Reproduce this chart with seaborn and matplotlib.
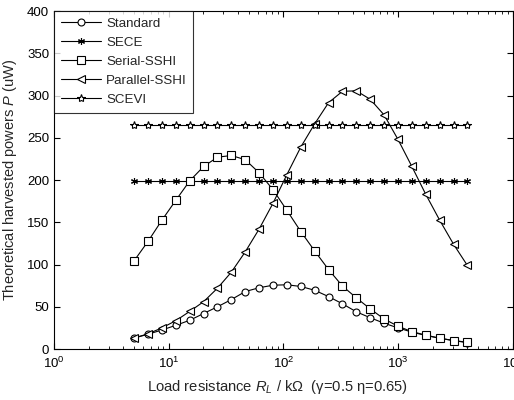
import matplotlib
matplotlib.use("Agg")
import matplotlib.pyplot as plt
import seaborn as sns
import pandas as pd

# Load resistance (kOhm)
r_load = [5.0, 6.61, 8.73, 11.53, 15.24, 20.14, 26.61, 35.16, 46.45, 61.38,
          81.10, 107.2, 141.6, 187.1, 247.2, 326.6, 431.5, 570.2, 753.4, 995.4,
          1315, 1738, 2296, 3034, 4000]

standard = [13, 17.5, 22.5, 28, 34, 42, 50, 58.5, 68, 72.5,
            75.5, 76, 74, 69.5, 62, 53.5, 44, 37, 30.5, 25,
            20, 16, 12.8, 10, 7.5]
sece = [199] * 25
serial_sshi = [104.5, 127.5, 152.5, 176, 199, 216, 227, 229, 224, 208.5,
               188.5, 164, 139, 116, 94, 74.5, 60.5, 47.5, 35.5, 27,
               20.5, 16.5, 12.7, 10, 8]
parallel_sshi = [13, 18, 25, 33.5, 44.5, 56, 72, 91, 115, 142,
                 172.5, 206.5, 239, 266.5, 291.5, 305, 305.5, 295.5, 277, 248,
                 216, 183, 152.5, 124, 99]
scevi = [265] * 25

series_names = ["Standard", "SECE", "Serial-SSHI", "Parallel-SSHI", "SCEVI"]
series_values = [standard, sece, serial_sshi, parallel_sshi, scevi]
markers = ["o", (6, 2, 0), "s", "<", "*"]
msizes = [5, 5, 5.8, 5.5, 6]

sns.set_style("ticks")
plt.rcParams["font.family"] = ["Liberation Sans", "DejaVu Sans"]
plt.rcParams["mathtext.fontset"] = "custom"
plt.rcParams["mathtext.it"] = "Liberation Sans:italic"
plt.rcParams["mathtext.rm"] = "Liberation Sans"

fig = plt.figure(figsize=(5.14, 4.0), dpi=100)
ax = fig.add_axes([0.105, 0.1275, 0.893, 0.845])

for name, vals, mk, ms in zip(series_names, series_values, markers, msizes):
    df = pd.DataFrame({"R": r_load, "P": vals})
    sns.lineplot(data=df, x="R", y="P", ax=ax, label=name, color="black",
                 linewidth=0.8, marker=mk, markersize=ms,
                 markerfacecolor="white", markeredgecolor="black",
                 markeredgewidth=0.8)

ax.set_xscale("log")
ax.set_xlim(1, 10000)
ax.set_ylim(0, 400)
ax.set_yticks(range(0, 401, 50))
ax.tick_params(direction="in", which="both", top=True, right=True,
               labelsize=9.5, colors="black")
ax.tick_params(axis="x", which="major", pad=5)
ax.tick_params(which="major", length=4)
ax.tick_params(which="minor", length=2.5)
for sp in ax.spines.values():
    sp.set_linewidth(0.8)
    sp.set_color("black")

ax.set_xlabel("Load resistance $R_L$ / kΩ  (γ=0.5 η=0.65)",
              fontsize=10.6, labelpad=6)
ax.xaxis.set_label_coords(0.487, -0.085)
ax.set_ylabel("Theoretical harvested powers $P$ (uW)", fontsize=10.5,
              labelpad=6)

leg = ax.legend(loc="upper left", bbox_to_anchor=(0, 1), borderaxespad=0,
                fontsize=9.6, handlelength=3, handletextpad=0.4,
                labelspacing=0.5, fancybox=False, frameon=True,
                borderpad=0.5)
leg.get_frame().set_edgecolor("black")
leg.get_frame().set_linewidth(0.8)

fig.savefig("out.png", dpi=100)
